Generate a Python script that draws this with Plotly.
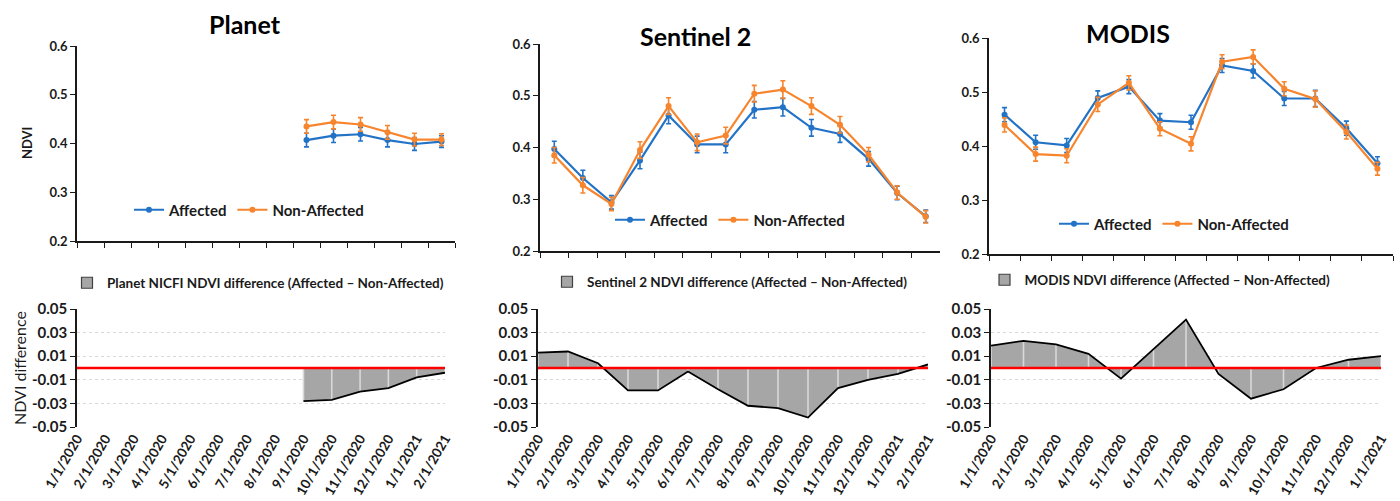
import plotly.graph_objects as go

dates14 = ["1/1/2020", "2/1/2020", "3/1/2020", "4/1/2020", "5/1/2020", "6/1/2020", "7/1/2020",
           "8/1/2020", "9/1/2020", "10/1/2020", "11/1/2020", "12/1/2020", "1/1/2021", "2/1/2021"]
dates13 = dates14[:13]

planet_aff = [None, None, None, None, None, None, None, None, 0.407, 0.416, 0.419, 0.407, 0.399, 0.404]
planet_non = [None, None, None, None, None, None, None, None, 0.435, 0.444, 0.439, 0.423, 0.408, 0.408]
planet_err = [0, 0, 0, 0, 0, 0, 0, 0, 0.014, 0.014, 0.014, 0.014, 0.013, 0.012]
planet_diff = [None, None, None, None, None, None, None, None, -0.028, -0.027, -0.020, -0.017, -0.008, -0.004]

sentinel_aff = [0.397, 0.341, 0.294, 0.375, 0.462, 0.406, 0.406, 0.473, 0.478, 0.438, 0.426, 0.378, 0.312, 0.267]
sentinel_non = [0.385, 0.327, 0.291, 0.395, 0.480, 0.410, 0.423, 0.504, 0.512, 0.480, 0.444, 0.386, 0.313, 0.266]
sentinel_err = [0.015, 0.015, 0.013, 0.016, 0.016, 0.016, 0.016, 0.016, 0.017, 0.016, 0.016, 0.014, 0.013, 0.012]
sentinel_diff = [0.013, 0.014, 0.004, -0.019, -0.019, -0.003, -0.018, -0.032, -0.034, -0.042, -0.017, -0.010, -0.005, 0.003]

modis_aff = [0.458, 0.407, 0.401, 0.489, 0.510, 0.447, 0.444, 0.549, 0.539, 0.488, 0.488, 0.433, 0.368]
modis_non = [0.439, 0.385, 0.382, 0.477, 0.517, 0.432, 0.404, 0.556, 0.565, 0.506, 0.487, 0.426, 0.358]
modis_err = [0.013, 0.013, 0.013, 0.013, 0.013, 0.013, 0.013, 0.013, 0.013, 0.013, 0.015, 0.013, 0.012]
modis_diff = [0.019, 0.023, 0.020, 0.012, -0.009, 0.016, 0.041, -0.005, -0.026, -0.018, 0.000, 0.007, 0.010]

titles = ["Planet", "Sentinel 2", "MODIS"]
diff_names = ["Planet NICFI NDVI difference (Affected \u2013 Non-Affected)",
              "Sentinel 2 NDVI difference (Affected \u2013 Non-Affected)",
              "MODIS NDVI difference (Affected \u2013 Non-Affected)"]
top_yticks = [0.2, 0.3, 0.4, 0.5, 0.6]
bot_yticks = [-0.05, -0.03, -0.01, 0.01, 0.03, 0.05]

BLUE = "#2273c6"
ORANGE = "#f7852d"
FONT = "Lato"
W, H = 1400, 501

def px(x):
    return x / W

def py(y):
    return 1 - y / H

# pixel boxes (left, right, top, bottom)
top_boxes = [(77, 455, 46, 241), (540, 940, 44, 251), (989, 1393, 38, 254)]
bot_boxes = [(77, 445, 309, 427), (538, 928, 309, 427), (991, 1381, 309, 427)]
title_pos = [(245, 24), (695, 36), (1128, 33)]
top_leg_pos = [(249, 210), (730, 220), (1174, 224)]
bot_leg_pos = [(258, 283), (730, 282), (1160, 280)]

panels = [
    (dates14, planet_aff, planet_non, planet_err, planet_diff),
    (dates14, sentinel_aff, sentinel_non, sentinel_err, sentinel_diff),
    (dates13, modis_aff, modis_non, modis_err, modis_diff),
]

fig = go.Figure()
layout = dict(
    width=W, height=H, autosize=False,
    margin=dict(l=0, r=0, t=0, b=0, pad=0, autoexpand=False),
    paper_bgcolor="white", plot_bgcolor="white",
    font=dict(family=FONT, color="#1a1a1a"),
    annotations=[], shapes=[],
)

for i, (cats, aff, non, err, diff) in enumerate(panels):
    top_idx = 2 * i + 1
    bot_idx = 2 * i + 2
    tx = "x" if top_idx == 1 else f"x{top_idx}"
    ty = "y" if top_idx == 1 else f"y{top_idx}"
    bx = f"x{bot_idx}"
    byy = f"y{bot_idx}"
    tleg = "legend" if i == 0 else f"legend{2 * i + 1}"
    bleg = f"legend{2 * i + 2}"

    for name, vals, col in [("Affected", aff, BLUE), ("Non-Affected", non, ORANGE)]:
        fig.add_trace(go.Scatter(
            x=cats, y=vals, name=name, mode="lines+markers",
            line=dict(color=col, width=2.2), marker=dict(color=col, size=6),
            error_y=dict(type="data", array=err, color=col, thickness=1.6, width=2.5),
            xaxis=tx, yaxis=ty, legend=tleg, connectgaps=False,
        ))

    # difference area
    fig.add_trace(go.Scatter(
        x=cats, y=diff, mode="lines", fill="tozeroy", fillcolor="#a6a6a6",
        line=dict(width=0, color="#a6a6a6"), showlegend=False, hoverinfo="skip",
        xaxis=bx, yaxis=byy,
    ))
    # light separators at each category inside the area
    sx, sy = [], []
    for c, v in zip(cats, diff):
        if v is None:
            continue
        sx += [c, c, None]
        sy += [0, v, None]
    fig.add_trace(go.Scatter(
        x=sx, y=sy, mode="lines", line=dict(color="#d9d9d9", width=1.6),
        showlegend=False, hoverinfo="skip", xaxis=bx, yaxis=byy,
    ))
    fig.add_trace(go.Scatter(
        x=cats, y=diff, mode="lines", line=dict(color="black", width=1.8),
        showlegend=False, hoverinfo="skip", xaxis=bx, yaxis=byy,
    ))
    # legend-only entry
    fig.add_trace(go.Scatter(
        x=[None], y=[None], mode="markers", name=diff_names[i],
        marker=dict(symbol="square", size=11, color="#a6a6a6", line=dict(color="#404040", width=1.2)),
        xaxis=bx, yaxis=byy, legend=bleg,
    ))

    l, r, t, b = top_boxes[i]
    axkey = "xaxis" if top_idx == 1 else f"xaxis{top_idx}"
    aykey = "yaxis" if top_idx == 1 else f"yaxis{top_idx}"
    layout[axkey] = dict(
        domain=[px(l), px(r)], anchor=ty, type="category", categoryorder="array",
        categoryarray=cats, range=[-0.5, len(cats) - 0.5], tickson="boundaries",
        showticklabels=False, ticks="outside", ticklen=5, tickwidth=1.3, tickcolor="#1a1a1a",
        showline=True, linecolor="#1a1a1a", linewidth=1.5, showgrid=False, zeroline=False,
        automargin=False,
    )
    layout[aykey] = dict(
        domain=[py(b), py(t)], anchor=tx, range=[0.2, 0.6], tickvals=top_yticks,
        ticktext=[f"{v:.1f}" for v in top_yticks], ticks="outside", ticklen=5, tickwidth=1.3,
        tickcolor="#1a1a1a", showline=True, linecolor="#1a1a1a", linewidth=1.5,
        showgrid=False, zeroline=False, tickfont=dict(size=13, weight="bold"),
        automargin=False,
    )

    bl, br, bt, bb = bot_boxes[i]
    layout[f"xaxis{bot_idx}"] = dict(
        domain=[px(bl), px(br)], anchor=byy, type="category", categoryorder="array",
        categoryarray=cats, range=[0, len(cats) - 1], tickangle=-60,
        tickfont=dict(size=13.5, weight="bold"), ticks="", showline=False, showgrid=False,
        zeroline=False, automargin=False,
    )
    layout[f"yaxis{bot_idx}"] = dict(
        domain=[py(bb), py(bt)], anchor=bx, range=[-0.05, 0.05], tickvals=bot_yticks,
        ticktext=[f"{v:.2f}" for v in bot_yticks], ticks="outside", ticklen=5, tickwidth=1.3,
        tickcolor="#1a1a1a", showline=True, linecolor="#1a1a1a", linewidth=1.5,
        showgrid=True, gridcolor="#d9d9d9", griddash="dot", gridwidth=1, zeroline=False,
        tickfont=dict(size=15, weight="bold"), automargin=False,
    )

    # red zero line
    layout["shapes"].append(dict(
        type="line", xref=f"{bx} domain", yref=byy, x0=0, x1=1, y0=0, y1=0,
        line=dict(color="red", width=2.5), layer="above",
    ))

    tx_, ty_ = title_pos[i]
    layout["annotations"].append(dict(
        text=f"<b>{titles[i]}</b>", x=px(tx_), y=py(ty_), xref="paper", yref="paper",
        xanchor="center", yanchor="middle", showarrow=False, font=dict(size=25, color="black"),
    ))

    lx, ly = top_leg_pos[i]
    layout[tleg] = dict(
        x=px(lx), y=py(ly), xanchor="center", yanchor="middle", orientation="h",
        font=dict(size=15, weight="bold"), bgcolor="rgba(0,0,0,0)", itemwidth=30,
        tracegroupgap=0,
    )
    blx, bly = bot_leg_pos[i]
    layout[bleg] = dict(
        x=px(blx), y=py(bly), xanchor="center", yanchor="middle", orientation="h",
        font=dict(size=13.5, weight="bold"), bgcolor="rgba(0,0,0,0)", itemwidth=30,
    )

# axis titles
layout["annotations"].append(dict(
    text="<b>NDVI</b>", x=px(27), y=py(143), xref="paper", yref="paper", textangle=-90,
    xanchor="center", yanchor="middle", showarrow=False, font=dict(size=13, color="#1a1a1a"),
))
layout["annotations"].append(dict(
    text="NDVI difference", x=px(19), y=py(368), xref="paper", yref="paper", textangle=-90,
    xanchor="center", yanchor="middle", showarrow=False, font=dict(size=16, color="#1a1a1a"),
))

fig.update_layout(**layout)
fig.write_html("out.html")
